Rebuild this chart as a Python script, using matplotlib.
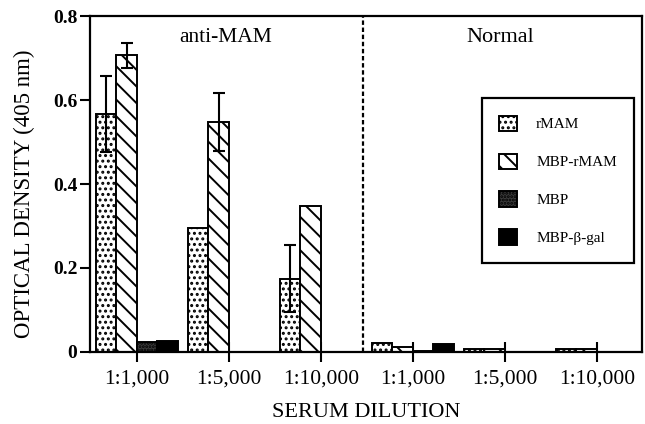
"""ELISA optical density by serum dilution, anti-MAM vs normal serum."""

import matplotlib
matplotlib.use("Agg")
import matplotlib.pyplot as plt
import numpy as np

DILUTIONS = ["1:1,000", "1:5,000", "1:10,000", "1:1,000", "1:5,000", "1:10,000"]
ANTIGENS = ["rMAM", "MBP-rMAM", "MBP", "MBP-\u03b2-gal"]

RMAM = [0.567, 0.295, 0.174, 0.022, 0.008, 0.006]
MBP_RMAM = [0.707, 0.548, 0.348, 0.012, 0.007, 0.008]
MBP = [0.024, 0.0, 0.0, 0.003, 0.0, 0.0]
MBP_BGAL = [0.027, 0.0, 0.0, 0.020, 0.0, 0.0]

RMAM_ERR = [0.09, 0.0, 0.08, 0.0, 0.0, 0.0]
MBP_RMAM_ERR = [0.03, 0.07, 0.0, 0.0, 0.0, 0.0]

GROUP_LABELS = ["anti-MAM", "Normal"]
Y_TICKS = [0.0, 0.2, 0.4, 0.6, 0.8]
Y_TICK_LABELS = ["0", "0.2", "0.4", "0.6", "0.8"]

plt.rcParams["font.family"] = ["Liberation Serif", "DejaVu Serif"]
plt.rcParams["hatch.linewidth"] = 1.4

fig = plt.figure(figsize=(6.45, 4.24), dpi=100)
ax = fig.add_axes([0.1395, 0.170, 0.8558, 0.792])

x = np.arange(len(DILUTIONS))
width = 0.222
offsets = np.array([-1.5, -0.5, 0.5, 1.5]) * width

styles = [
    dict(facecolor="white", hatch="..."),
    dict(facecolor="white", hatch="\\\\"),
    dict(facecolor="#3a3a3a", hatch="....."),
    dict(facecolor="black", hatch=None),
]
series = [RMAM, MBP_RMAM, MBP, MBP_BGAL]
errors = [RMAM_ERR, MBP_RMAM_ERR, None, None]

for vals, err, off, style, label in zip(series, errors, offsets, styles, ANTIGENS):
    ax.bar(x + off, vals, width, edgecolor="black", linewidth=1.4, label=label,
           zorder=2, **style)
    if err is not None:
        err = np.array(err)
        mask = err > 0
        ax.errorbar((x + off)[mask], np.array(vals)[mask], yerr=err[mask], fmt="none",
                    ecolor="black", elinewidth=1.5, capsize=4, capthick=1.5, zorder=3)

ax.axvline(2.455, color="black", linestyle=(0, (2, 1.2)), linewidth=1.6, zorder=1)

ax.set_xlim(-0.51, 5.49)
ax.set_ylim(0, 0.8)
ax.set_xticks(x)
ax.set_xticklabels(DILUTIONS, fontsize=15.5)
ax.set_yticks(Y_TICKS)
ax.set_yticklabels(Y_TICK_LABELS, fontsize=14, fontweight="bold")
ax.tick_params(axis="x", direction="inout", length=14, width=1.5, pad=6)
ax.tick_params(axis="y", direction="out", length=7, width=1.5, pad=2)
for spine in ax.spines.values():
    spine.set_linewidth(1.6)

ax.text(0.96, 0.75, GROUP_LABELS[0], fontsize=15.5, ha="center", va="center")
ax.text(3.95, 0.75, GROUP_LABELS[1], fontsize=16, ha="center", va="center")

ax.set_xlabel("SERUM DILUTION", fontsize=16, labelpad=10)
ax.set_ylabel("OPTICAL DENSITY (405 nm)", fontsize=16.5)
ax.yaxis.set_label_coords(-0.099, 0.47)

leg = ax.legend(loc="upper left", bbox_to_anchor=(0.71, 0.756), fontsize=11,
                frameon=True, fancybox=False, edgecolor="black", framealpha=1,
                handlelength=1.15, handleheight=1.15, labelspacing=1.45,
                handletextpad=1.25, borderpad=1.15, borderaxespad=0)
leg.get_frame().set_linewidth(1.6)

fig.savefig("out.png", dpi=100)
